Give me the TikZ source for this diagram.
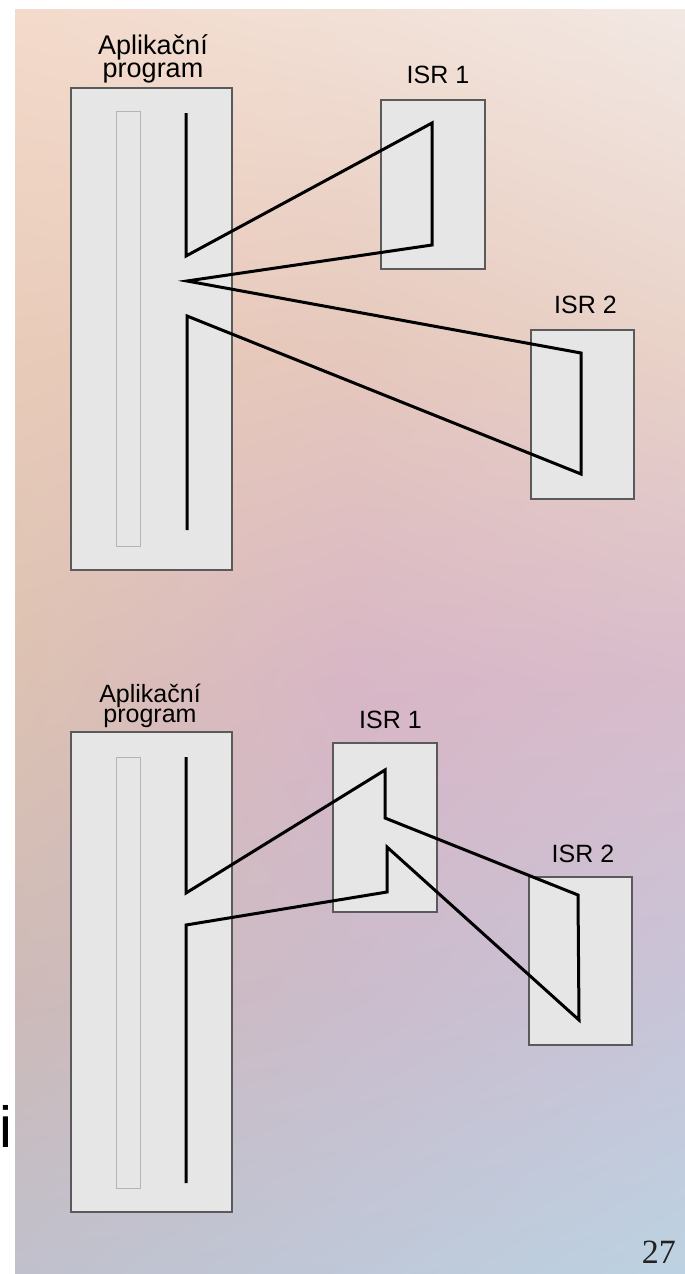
\documentclass[tikz,border=0pt]{standalone}
\usepackage{fontspec}
\setmainfont{Liberation Sans}
\newfontfamily\numfont{Liberation Serif}
\usetikzlibrary{shadings}
% background grid colours (row, column)
\definecolor{ca0}{HTML}{F3DACB}\definecolor{ca1}{HTML}{F2E0D6}\definecolor{ca2}{HTML}{F2E8E3}
\definecolor{cb0}{HTML}{E9CBB9}\definecolor{cb1}{HTML}{E6C8BC}\definecolor{cb2}{HTML}{E9D2C8}
\definecolor{cc0}{HTML}{DCC2B2}\definecolor{cc1}{HTML}{D8B6C6}\definecolor{cc2}{HTML}{D8BCCC}
\definecolor{cd0}{HTML}{CDBAB8}\definecolor{cd1}{HTML}{CBBCCC}\definecolor{cd2}{HTML}{C8C4D8}
\definecolor{ce0}{HTML}{C0C0CC}\definecolor{ce1}{HTML}{BFC8D8}\definecolor{ce2}{HTML}{BCD2E2}
\definecolor{boxfill}{HTML}{E6E6E6}
\definecolor{boxborder}{HTML}{5A5A5A}
\definecolor{innerborder}{HTML}{B4B4B4}
\definecolor{numgray}{HTML}{222222}
\tikzset{
  bigbox/.style={draw=boxborder, line width=1.5pt, fill=boxfill, inner sep=0pt, minimum width=161pt},
  isrbox/.style={draw=boxborder, line width=1.5pt, fill=boxfill, inner sep=0pt, minimum width=104pt, minimum height=169pt},
  innerbox/.style={draw=innerborder, line width=1pt, fill=boxfill, inner sep=0pt, minimum width=24pt},
  flow/.style={draw=black, line width=3pt, line join=miter},
  lbl/.style={anchor=base, inner sep=0pt, text=black},
  applbl/.style={anchor=base, inner sep=0pt, text=black, align=center},
}
\begin{document}
\begin{tikzpicture}[x=1pt,y=-1pt]
\useasboundingbox (0,0) rectangle (685,1274);
\fill[white] (0,0) rectangle (685,1274);
% background
\shade[upper left=ca0, upper right=ca1, lower left=cb0, lower right=cb1] (15,9) rectangle (351,351);
\shade[upper left=ca1, upper right=ca2, lower left=cb1, lower right=cb2] (350,9) rectangle (685,351);
\shade[upper left=cb0, upper right=cb1, lower left=cc0, lower right=cc1] (15,350) rectangle (351,681);
\shade[upper left=cb1, upper right=cb2, lower left=cc1, lower right=cc2] (350,350) rectangle (685,681);
\shade[upper left=cc0, upper right=cc1, lower left=cd0, lower right=cd1] (15,680) rectangle (351,1001);
\shade[upper left=cc1, upper right=cc2, lower left=cd1, lower right=cd2] (350,680) rectangle (685,1001);
\shade[upper left=cd0, upper right=cd1, lower left=ce0, lower right=ce1] (15,1000) rectangle (351,1274);
\shade[upper left=cd1, upper right=cd2, lower left=ce1, lower right=ce2] (350,1000) rectangle (685,1274);

% ---------- upper diagram ----------
\node[bigbox, minimum height=482pt] (app1) at (151.5,329) {};
\node[innerbox, minimum height=435pt] (in1) at (128,328.5) {};
\node[isrbox] (isr1a) at (433,184.5) {};
\node[isrbox, minimum width=103pt] (isr2a) at (582.5,414.5) {};
\node[applbl, font=\fontsize{27}{23}\selectfont] (t1) at (153,77) {Aplikační\\program};
\node[lbl, font=\fontsize{25}{25}\selectfont] (l1a) at (438,83) {ISR 1};
\node[lbl, font=\fontsize{25}{25}\selectfont] (l2a) at (585.5,313) {ISR 2};
\coordinate (a0) at (186,113);
\coordinate (a1) at (186,256);
\coordinate (a2) at (432,123);
\coordinate (a3) at (432,245);
\coordinate (a4) at (187,281);
\coordinate (a5) at (581,353);
\coordinate (a6) at (581,474);
\coordinate (a7) at (187,316);
\coordinate (a8) at (187,530);
\draw[flow] (a0) -- (a1) -- (a2) -- (a3) -- (a4) -- (a5) -- (a6) -- (a7) -- (a8);

% ---------- lower diagram ----------
\node[bigbox, minimum height=480pt] (app2) at (151.5,972) {};
\node[innerbox, minimum height=431pt] (in2) at (128,972.5) {};
\node[isrbox] (isr1b) at (385,827.5) {};
\node[isrbox, minimum width=103pt, minimum height=168pt] (isr2b) at (580.5,961) {};
\node[applbl, font=\fontsize{25}{20}\selectfont] (t2) at (150,722) {Aplikační\\program};
\node[lbl, font=\fontsize{25}{25}\selectfont] (l1b) at (390.5,728) {ISR 1};
\node[lbl, font=\fontsize{25}{25}\selectfont] (l2b) at (583,862) {ISR 2};
\coordinate (b0) at (186,757);
\coordinate (b1) at (186,893);
\coordinate (b2) at (385,770);
\coordinate (b3) at (385,818);
\coordinate (b4) at (578,895);
\coordinate (b5) at (579,1020);
\coordinate (b6) at (387,847);
\coordinate (b7) at (387,892);
\coordinate (b8) at (186,925);
\coordinate (b9) at (186,1183);
\draw[flow] (b0) -- (b1) -- (b2) -- (b3) -- (b4) -- (b5) -- (b6) -- (b7) -- (b8) -- (b9);

% ---------- margin texts ----------
\node[anchor=base west, inner sep=0pt, font=\fontsize{58}{58}\selectfont] (ichar) at (-1,1147) {i};
\node[anchor=base east, inner sep=0pt, text=numgray, font=\numfont\fontsize{34}{34}\selectfont] (pnum) at (676,1263) {27};
\end{tikzpicture}
\end{document}
